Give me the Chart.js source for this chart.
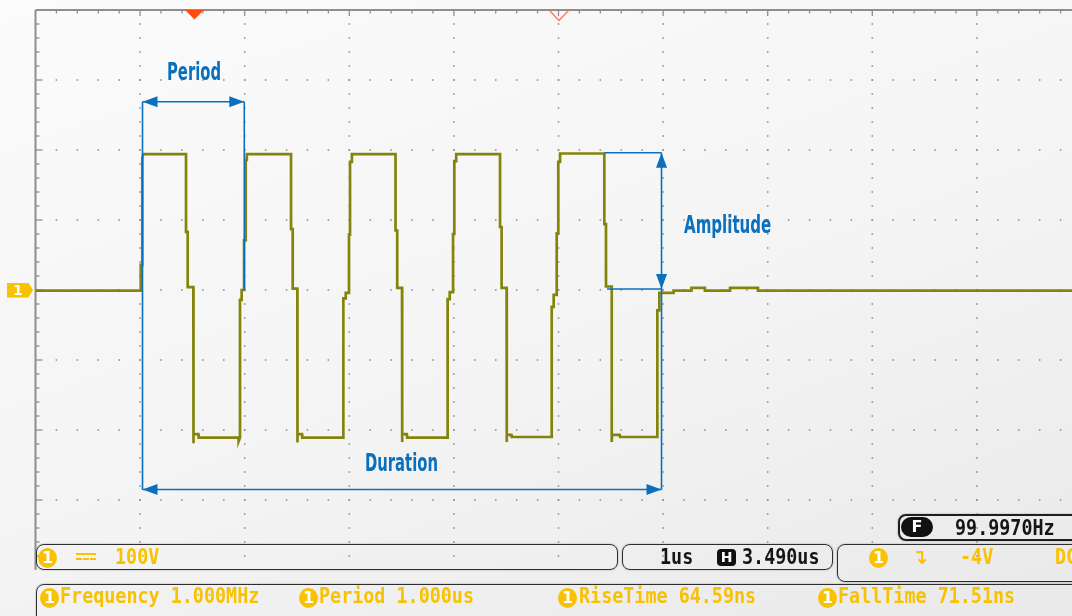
<!DOCTYPE html>
<html>
<head>
<meta charset="utf-8">
<script src="https://cdn.jsdelivr.net/npm/chart.js@4.4.1/dist/chart.umd.min.js"></script>
<style>
  html, body { margin:0; padding:0; width:1072px; height:616px; overflow:hidden; }
  body { position:relative; background:linear-gradient(160deg, #fbfbfb 0%, #f4f4f4 55%, #e9e9e9 100%); }
  #wrap { position:absolute; left:0; top:0; width:1090px; height:616px; }
  .note { position:absolute; font-family:'Liberation Sans Narrow','DejaVu Sans Condensed',sans-serif; font-weight:bold;
          font-size:25px; line-height:1; color:#0a70bd; white-space:nowrap; transform-origin:left center; }
  .box { position:absolute; border:1.8px solid #2e2e2e; border-radius:8px; box-sizing:border-box; box-shadow:0 0 1.5px #777; }
  .txt { position:absolute; font-family:'DejaVu Sans Mono',monospace; font-weight:bold; font-size:18.4px;
         line-height:1; white-space:nowrap; transform:scaleY(1.15); }
  .y { color:#f8c200; }
  .k { color:#151515; }
  .ch { position:absolute; width:19px; height:20px; border-radius:50%; background:#f8c200; color:#fff;
        font:bold 16px 'DejaVu Sans',sans-serif; text-align:center; line-height:20px; }
  .tag { position:absolute; left:7px; width:26px; height:15px; background:#f8c200; color:#fff;
         font:bold 14px 'DejaVu Sans',sans-serif; line-height:15px; text-indent:6px;
         clip-path:polygon(0 0, 82% 0, 100% 50%, 82% 100%, 0 100%); }
</style>
</head>
<body>
<div id="wrap"><canvas id="scope" width="1090" height="616"></canvas></div>

<div class="note" id="nPeriod">Period</div>
<div class="note" id="nAmp">Amplitude</div>
<div class="note" id="nDur">Duration</div>
<div class="tag" id="ch1tag">1</div>

<!-- status line -->
<div class="box" style="left:36px;top:544px;width:582px;height:26px;"></div>
<div class="ch" style="left:38px;top:548px;">1</div>
<div style="position:absolute;left:76px;top:553px;width:20px;height:0;border-top:2px solid #f8c200;"></div>
<div style="position:absolute;left:76px;top:558px;width:20px;height:0;border-top:2px dashed #f8c200;"></div>
<div class="txt y" style="left:115px;top:548px;">100V</div>

<div class="box" style="left:622px;top:544px;width:211px;height:26px;"></div>
<div class="txt k" style="left:660px;top:548px;">1us</div>
<div style="position:absolute;left:717px;top:549px;width:19px;height:17px;border-radius:4px;background:#111;color:#fff;font:bold 14px 'DejaVu Sans',sans-serif;line-height:17px;text-align:center;">H</div>
<div class="txt k" style="left:742px;top:548px;">3.490us</div>

<div class="box" style="left:837px;top:544px;width:260px;height:38px;"></div>
<div class="ch" style="left:869px;top:548px;">1</div>
<div class="txt y" style="left:912px;top:548px;font-family:'DejaVu Sans',sans-serif;">↴</div>
<div class="txt y" style="left:960px;top:548px;">-4V</div>
<div class="txt y" style="left:1055px;top:548px;">DC</div>

<div class="box" style="left:898px;top:514px;width:200px;height:27px;border:2px solid #1e1e1e;"></div>
<div style="position:absolute;left:901px;top:517px;width:32px;height:20px;border-radius:10px;background:#111;color:#fff;font:bold 16px 'DejaVu Sans',sans-serif;line-height:20px;text-align:center;">F</div>
<div class="txt k" style="left:955px;top:519px;">99.9970Hz</div>

<div class="box" style="left:36px;top:584px;width:1060px;height:50px;"></div>
<div class="ch" style="left:40px;top:588px;">1</div>
<div class="txt y" style="left:60px;top:587px;">Frequency 1.000MHz</div>
<div class="ch" style="left:299px;top:588px;">1</div>
<div class="txt y" style="left:319px;top:587px;">Period 1.000us</div>
<div class="ch" style="left:558px;top:588px;">1</div>
<div class="txt y" style="left:579px;top:587px;">RiseTime 64.59ns</div>
<div class="ch" style="left:818px;top:588px;">1</div>
<div class="txt y" style="left:838px;top:587px;">FallTime 71.51ns</div>

<script>
// channel 1 trace: time in us (1 us / div), volts (100 V / div)
const timeUs = [
  0.000, 1.006, 1.006, 1.021, 1.021, 1.030,
  1.439, 1.439, 1.455, 1.455, 1.509, 1.509, 1.512, 1.557, 1.560, 1.940, 1.942, 1.955,
  1.955, 1.971, 1.971, 1.994, 1.994, 2.010, 2.010, 2.020, 2.020, 2.051,
  2.443, 2.443, 2.459, 2.459, 2.503, 2.503, 2.506, 2.548, 2.550, 2.943,
  2.943, 2.966, 2.966, 2.997, 2.997, 3.007, 3.007, 3.025, 3.025, 3.046,
  3.442, 3.442, 3.458, 3.458, 3.504, 3.504, 3.507, 3.550, 3.553, 3.940,
  3.940, 3.960, 3.960, 3.992, 3.992, 4.004, 4.004, 4.022, 4.022, 4.045,
  4.441, 4.441, 4.456, 4.456, 4.504, 4.504, 4.507, 4.550, 4.553, 4.935,
  4.935, 4.954, 4.954, 4.983, 4.983, 4.998, 4.998, 5.015, 5.015, 5.053,
  5.438, 5.438, 5.454, 5.454, 5.509, 5.509, 5.512, 5.585, 5.588, 5.945,
  5.945, 5.964, 5.964, 6.100, 6.100, 6.271, 6.271, 6.400, 6.400, 6.640, 6.640, 6.907, 6.907, 10.000
];
const volts = [
  -1, -1, 36, 36, 188, 194,
  194, 83, 83, 4, 4, -219, -206, -206, -211, -211, -216, -211,
  -14, -14, 0, 0, 71, 71, 186, 186, 194, 194,
  194, 87, 87, 2, 2, -218, -206, -206, -211, -211,
  -12, -12, -4, -4, 79, 79, 183, 183, 194, 194,
  194, 85, 85, 3, 3, -217, -206, -206, -211, -211,
  -13, -13, -3, -3, 80, 80, 184, 184, 194, 194,
  194, 90, 90, 3, 3, -217, -207, -207, -210, -210,
  -24, -24, -7, -7, 81, 81, 183, 183, 195, 195,
  195, 94, 94, 5, 5, -217, -207, -207, -210, -210,
  -29, -29, -4, -4, -1, -1, 3, 3, -1, -1, 3, 3, -1, -1
];

// annotation geometry (us, V)
const periodSpan = [1.023, 1.996];
const periodLevel = 269;
const ampSpan = [196, 1.4];
const ampStart = [5.438, 5.464];
const markerT = 5.985;
const durationLevel = -285;
const triggerT = 1.52;
const centerT = 5.005;
const noteAt = { nPeriod: [1.512, 312, 54], nAmp: [6.611, 93, 87], nDur: [3.499, -246, 73] };

const blue = '#0a70bd';

function head(ctx, x, y, dir) {
  const L = 15, W = 5.5;
  ctx.beginPath();
  if (dir === 'l') { ctx.moveTo(x, y); ctx.lineTo(x + L, y - W); ctx.lineTo(x + L, y + W); }
  if (dir === 'r') { ctx.moveTo(x, y); ctx.lineTo(x - L, y - W); ctx.lineTo(x - L, y + W); }
  if (dir === 'u') { ctx.moveTo(x, y); ctx.lineTo(x - W, y + L); ctx.lineTo(x + W, y + L); }
  if (dir === 'd') { ctx.moveTo(x, y); ctx.lineTo(x - W, y - L); ctx.lineTo(x + W, y - L); }
  ctx.closePath();
  ctx.fill();
}

function seg(ctx, x1, y1, x2, y2) {
  ctx.beginPath(); ctx.moveTo(x1, y1); ctx.lineTo(x2, y2); ctx.stroke();
}

const scopeGrid = {
  id: 'scopeGrid',
  beforeDatasetsDraw(chart) {
    const { ctx, chartArea: a } = chart;
    const xs = chart.scales.x, ys = chart.scales.y;
    ctx.save();
    // dotted graticule
    ctx.fillStyle = '#939393';
    for (let i = 1; i < 10; i++) {
      const px = xs.getPixelForValue(i);
      for (let j = 1; j < 40; j++) ctx.fillRect(px - 0.8, ys.getPixelForValue(400 - j * 20) - 0.8, 1.6, 1.6);
    }
    for (let j = 1; j < 8; j++) {
      const py = ys.getPixelForValue(400 - j * 100);
      for (let i = 1; i < 50; i++) ctx.fillRect(xs.getPixelForValue(i * 0.2) - 0.8, py - 0.8, 1.6, 1.6);
    }
    // frame and ticks
    ctx.strokeStyle = '#8e8e8e';
    ctx.lineWidth = 2;
    seg(ctx, a.left, a.top, a.right, a.top);
    seg(ctx, a.left, a.top, a.left, a.bottom);
    ctx.lineWidth = 1.3;
    for (let k = 1; k < 50; k++) {
      const px = xs.getPixelForValue(k * 0.2);
      seg(ctx, px, a.top, px, a.top + (k % 5 === 0 ? 6 : 3.5));
    }
    for (let k = 1; k < 40; k++) {
      const py = ys.getPixelForValue(400 - k * 20);
      seg(ctx, a.left, py, a.left + (k % 5 === 0 ? 7 : 4), py);
    }
    ctx.restore();
  },
  afterDatasetsDraw(chart) {
    const { ctx, chartArea: a } = chart;
    const xs = chart.scales.x, ys = chart.scales.y;
    const X = v => xs.getPixelForValue(v), Y = v => ys.getPixelForValue(v);
    ctx.save();
    ctx.strokeStyle = blue; ctx.fillStyle = blue; ctx.lineWidth = 1.6;
    // period
    const p0 = X(periodSpan[0]), p1 = X(periodSpan[1]), pl = Y(periodLevel);
    seg(ctx, p0, pl, p1, pl); head(ctx, p0, pl, 'l'); head(ctx, p1, pl, 'r');
    seg(ctx, p0, pl, p0, Y(durationLevel));
    seg(ctx, p1, pl, p1, Y(0));
    // amplitude
    const mx = X(markerT), at = Y(ampSpan[0]), ab = Y(ampSpan[1]);
    seg(ctx, X(ampStart[0]), at, mx, at);
    seg(ctx, X(ampStart[1]), ab, mx, ab);
    seg(ctx, mx, at, mx, Y(durationLevel));
    head(ctx, mx, at, 'u'); head(ctx, mx, ab, 'd');
    // duration
    const dl = Y(durationLevel);
    seg(ctx, p0, dl, mx, dl); head(ctx, p0, dl, 'l'); head(ctx, mx, dl, 'r');
    // trigger markers on top edge
    const tx = X(triggerT);
    ctx.fillStyle = '#ff4d12';
    ctx.beginPath(); ctx.moveTo(tx - 9.5, a.top); ctx.lineTo(tx + 9.5, a.top); ctx.lineTo(tx, a.top + 9.5); ctx.closePath(); ctx.fill();
    const cx = X(centerT);
    ctx.strokeStyle = '#ff7a5c'; ctx.lineWidth = 1.4;
    ctx.beginPath(); ctx.moveTo(cx - 10, a.top); ctx.lineTo(cx, a.top + 10.5); ctx.lineTo(cx + 10, a.top); ctx.stroke();
    ctx.restore();
  },
  afterDraw(chart) {
    const xs = chart.scales.x, ys = chart.scales.y;
    for (const id in noteAt) {
      const el = document.getElementById(id);
      const [t, v, w] = noteAt[id];
      const s = w / el.offsetWidth;
      el.style.transform = 'scaleX(' + s + ')';
      el.style.left = (xs.getPixelForValue(t) - w / 2) + 'px';
      el.style.top = (ys.getPixelForValue(v) - 12.5) + 'px';
    }
    document.getElementById('ch1tag').style.top = (ys.getPixelForValue(0) - 7.5) + 'px';
  }
};

const ctx = document.getElementById('scope');
new Chart(ctx, {
  type: 'line',
  data: {
    datasets: [{
      data: timeUs.map((t, i) => ({ x: t, y: volts[i] })),
      borderColor: '#84840c',
      borderWidth: 2.7,
      pointRadius: 0,
      tension: 0,
      fill: false
    }]
  },
  options: {
    responsive: false,
    animation: false,
    events: [],
    layout: { padding: { left: 35.5, top: 10, right: 8.5, bottom: 46 } },
    scales: {
      x: { type: 'linear', min: 0, max: 10, display: false },
      y: { min: -400, max: 400, display: false }
    },
    plugins: { legend: { display: false }, tooltip: { enabled: false } }
  },
  plugins: [scopeGrid]
});
</script>
</body>
</html>
